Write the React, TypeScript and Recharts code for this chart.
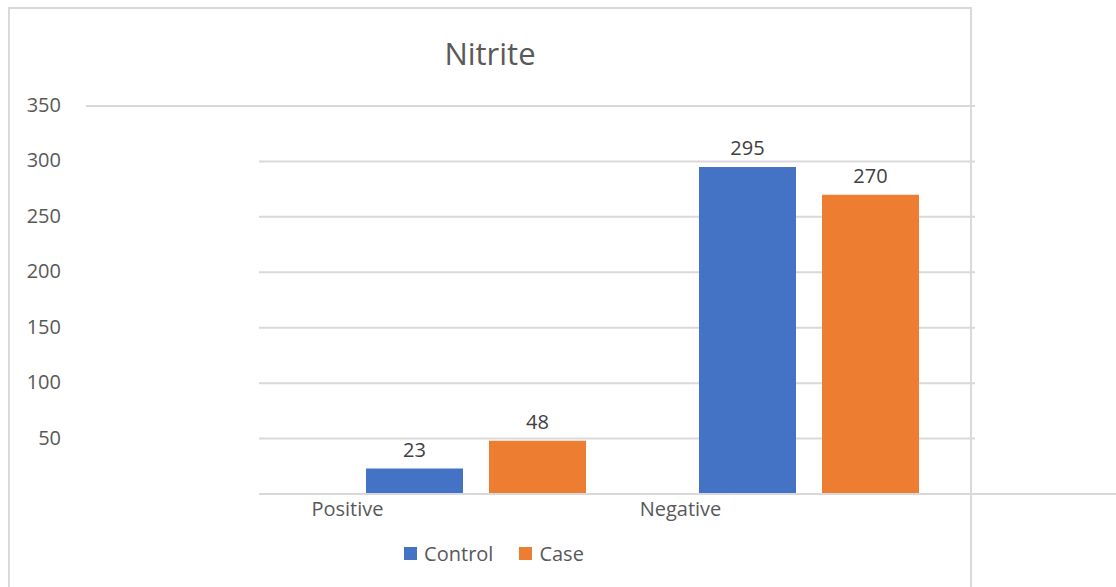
import React from "react";
import { BarChart, Bar, XAxis, YAxis, CartesianGrid, LabelList } from "recharts";

const categories = ["Positive", "Negative"];
const controlValues = [23, 295];
const caseValues = [48, 270];
const yTicks = [50, 100, 150, 200, 250, 300, 350];

const data = categories.map((name, i) => ({
  name,
  control: controlValues[i],
  case: caseValues[i],
}));

const BLUE = "#4472C4";
const ORANGE = "#ED7D31";
const GRID = "#d9d9d9";
const TEXT = "#595959";
const FONT = "'Open Sans', sans-serif";

function YTick({ y, payload }: any) {
  return (
    <text x={61} y={y} dy={6} textAnchor="end" fill={TEXT} fontSize={20} fontFamily={FONT}>
      {payload.value}
    </text>
  );
}

function XTick({ x, y, payload }: any) {
  return (
    <text x={x - 128} y={y} dy={14} textAnchor="middle" fill={TEXT} fontSize={20} fontFamily={FONT}>
      {payload.value}
    </text>
  );
}

export default function App() {
  return (
    <div
      style={{
        position: "absolute",
        left: 0,
        top: 0,
        width: 1116,
        height: 587,
        background: "#fff",
        fontFamily: FONT,
        overflow: "hidden",
      }}
    >
      {/* chart frame */}
      <div
        style={{
          position: "absolute",
          left: 8,
          top: 7,
          width: 964,
          height: 600,
          border: `2px solid ${GRID}`,
          boxSizing: "border-box",
        }}
      />
      <div
        style={{
          position: "absolute",
          left: 0,
          width: 980,
          top: 32,
          textAlign: "center",
          fontSize: 31,
          color: TEXT,
        }}
      >
        Nitrite
      </div>
      {/* stray line pieces */}
      <div style={{ position: "absolute", left: 86, top: 105, width: 174, height: 2, background: GRID }} />
      <div style={{ position: "absolute", left: 974, top: 493, width: 142, height: 2, background: GRID }} />

      <BarChart
        width={1116}
        height={587}
        data={data}
        margin={{ top: 106, right: 141, left: 8, bottom: 63 }}
        barSize={97}
        barGap={26}
        style={{ position: "absolute", left: 0, top: 0 }}
      >
        <CartesianGrid vertical={false} stroke={GRID} strokeWidth={2} />
        <XAxis
          dataKey="name"
          height={30}
          axisLine={{ stroke: GRID, strokeWidth: 2 }}
          tickLine={false}
          padding={{ left: 50, right: 0 }}
          tick={<XTick />}
        />
        <YAxis
          width={251}
          domain={[0, 350]}
          ticks={yTicks}
          axisLine={false}
          tickLine={false}
          tick={<YTick />}
        />
        <Bar dataKey="control" fill={BLUE} isAnimationActive={false}>
          <LabelList dataKey="control" position="top" offset={12} fill="#404040" fontSize={20} fontFamily={FONT} />
        </Bar>
        <Bar dataKey="case" fill={ORANGE} isAnimationActive={false}>
          <LabelList dataKey="case" position="top" offset={12} fill="#404040" fontSize={20} fontFamily={FONT} />
        </Bar>
      </BarChart>

      <div
        style={{
          position: "absolute",
          left: 0,
          width: 988,
          top: 540,
          display: "flex",
          justifyContent: "center",
          gap: 26,
          fontSize: 20,
          color: TEXT,
        }}
      >
        {[
          { label: "Control", color: BLUE },
          { label: "Case", color: ORANGE },
        ].map((d) => (
          <div key={d.label} style={{ display: "flex", alignItems: "center", gap: 7 }}>
            <div style={{ width: 13, height: 13, background: d.color }} />
            <span>{d.label}</span>
          </div>
        ))}
      </div>
    </div>
  );
}
